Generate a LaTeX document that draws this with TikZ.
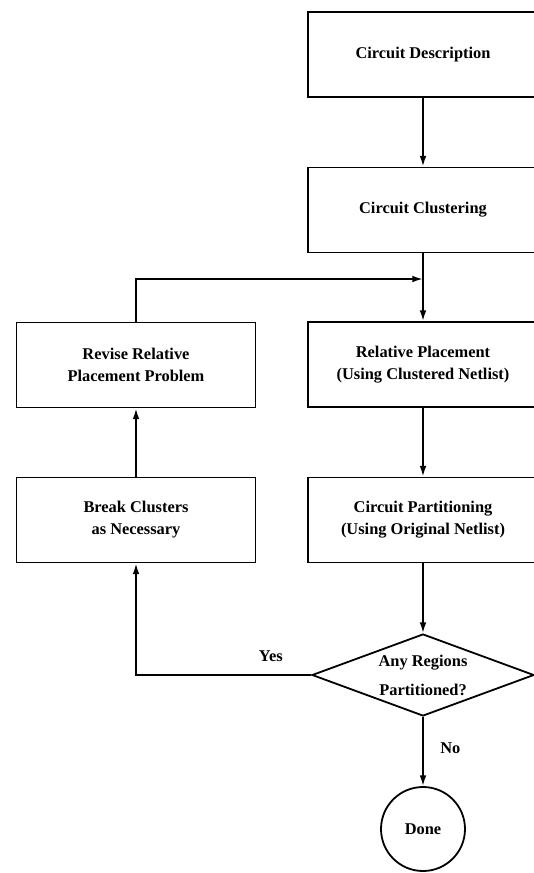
\documentclass[tikz,border=0pt]{standalone}
\usepackage{fontspec}
\setmainfont{Liberation Serif}
\usetikzlibrary{shapes.geometric,arrows.meta}
\begin{document}
\begin{tikzpicture}[x=0.75pt,y=-0.75pt,
  line width=1.35pt,
  every node/.style={font=\fontsize{12.3}{16.5}\selectfont\bfseries},
  stepbox/.style={draw, rectangle, align=center, minimum height=63.75pt, inner sep=0pt},
  rightbox/.style={stepbox, minimum width=172.5pt},
  leftbox/.style={stepbox, minimum width=179.25pt},
  decision/.style={draw, diamond, minimum width=166.5pt, minimum height=61.5pt, inner sep=0pt},
  terminal/.style={draw, circle, minimum size=63pt, inner sep=0pt},
  flow/.style={-{Latex[length=8pt,width=5pt]}},
]
\useasboundingbox (0,0) rectangle (534,873);
\clip (0,0) rectangle (534,873);

% right column
\node[rightbox] (desc)  at (423,54.5)  {Circuit Description};
\node[rightbox] (clust) at (423,210)   {Circuit Clustering};
\node[rightbox] (relp)  at (423,364.5) {Relative Placement\\(Using Clustered Netlist)};
\node[rightbox] (part)  at (423,520)   {Circuit Partitioning\\(Using Original Netlist)};
\node[decision, label={[align=center, font=\fontsize{12.3}{21.75}\selectfont\bfseries]center:Any Regions\\Partitioned?}] (dec) at (423,675) {};
\node[terminal] (done) at (423,829) {Done};

% left column
\node[leftbox] (revise) at (136,365) {Revise Relative\\Placement Problem};
\node[leftbox] (brk)    at (136,520) {Break Clusters\\as Necessary};

% junction above the placement step
\coordinate (join) at (423,279);
\coordinate (loopcorner) at (136,675);

% connectors
\draw[flow] (desc) -- (clust);
\draw (clust) -- (join);
\draw[flow] (join) -- (relp);
\draw[flow] (relp) -- (part);
\draw[flow] (part) -- (dec);
\draw[flow] (dec) -- node[right=9pt, pos=0.45] (nolbl) {No} (done);
\draw[flow] (dec.west) -- node[above=6pt, pos=0.23] (yeslbl) {Yes} (loopcorner) -- (brk);
\draw[flow] (brk) -- (revise);
\draw[flow] (revise.north) |- (join);
\end{tikzpicture}
\end{document}
